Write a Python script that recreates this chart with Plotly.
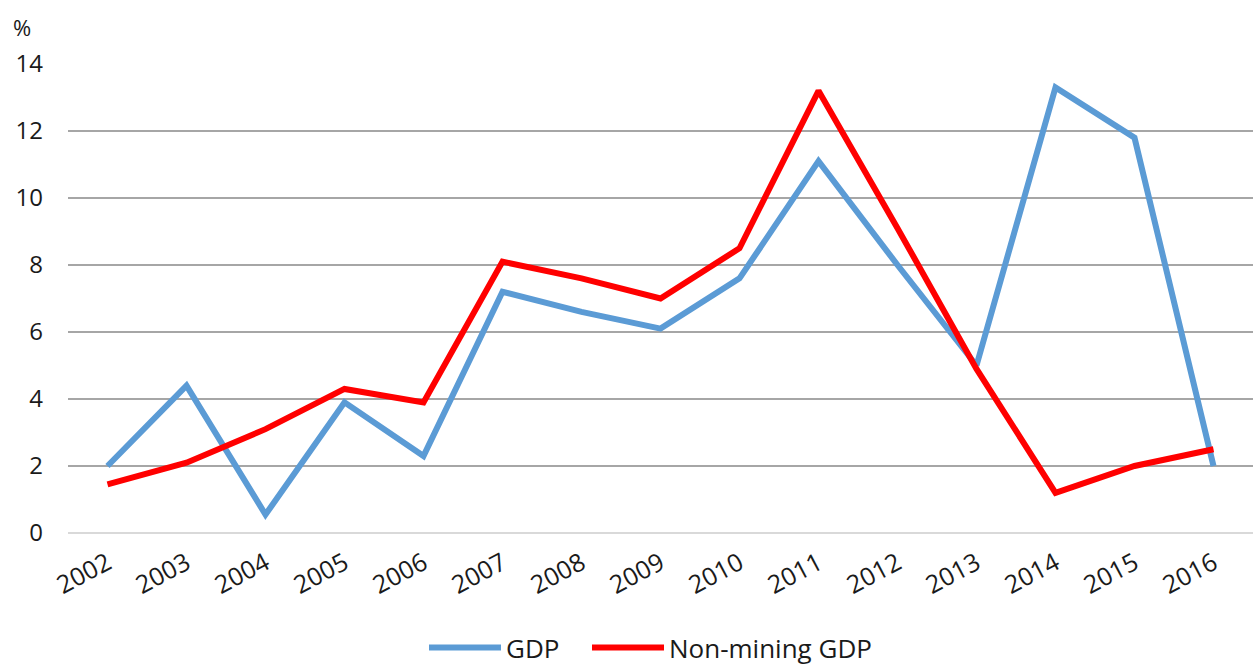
import plotly.graph_objects as go

years = ["2002", "2003", "2004", "2005", "2006", "2007", "2008", "2009",
         "2010", "2011", "2012", "2013", "2014", "2015", "2016"]
gdp = [2.0, 4.4, 0.55, 3.9, 2.3, 7.2, 6.6, 6.1, 7.6, 11.1, 8.0, 5.0, 13.3, 11.8, 2.0]
non_mining_gdp = [1.45, 2.1, 3.1, 4.3, 3.9, 8.1, 7.6, 7.0, 8.5, 13.2, 9.1, 4.9, 1.2, 2.0, 2.5]
y_ticks = [0, 2, 4, 6, 8, 10, 12, 14]

FONT = "Open Sans, Lato, sans-serif"

fig = go.Figure()
fig.add_trace(go.Scatter(x=years, y=gdp, name="GDP", mode="lines", legend="legend",
                         line=dict(color="#5b9bd5", width=6)))
fig.add_trace(go.Scatter(x=years, y=non_mining_gdp, name="Non-mining GDP", mode="lines",
                         legend="legend2", line=dict(color="#ff0000", width=6)))

legend_style = dict(orientation="h", y=0.0, yanchor="bottom", xanchor="left",
                    xref="container", yref="container", font=dict(size=26),
                    itemwidth=72, bgcolor="rgba(0,0,0,0)")

fig.update_layout(
    width=1253, height=671,
    margin=dict(l=68, r=0, t=64, b=138, autoexpand=False),
    plot_bgcolor="white", paper_bgcolor="white",
    font=dict(family=FONT, color="#1a1a1a", size=21),
    showlegend=True,
    legend=dict(x=424 / 1253, **legend_style),
    legend2=dict(x=587 / 1253, **legend_style),
    xaxis=dict(type="category", range=[-0.5, len(years) - 0.5], showgrid=False,
               showline=False, zeroline=False, tickangle=-28, automargin=False,
               tickfont=dict(size=25), ticks="", ticklabelstandoff=10),
    yaxis=dict(range=[0, 14], tickvals=y_ticks, showgrid=True, gridcolor="#a6a6a6",
               gridwidth=2, zeroline=True, zerolinecolor="#d9d9d9", zerolinewidth=2,
               automargin=False,
               tickfont=dict(size=24), ticks="", ticklabelstandoff=24),
    annotations=[dict(text="%", x=0, y=1, xref="paper", yref="paper", xshift=-46,
                      yshift=20, showarrow=False, xanchor="center", yanchor="bottom",
                      font=dict(size=22))],
)

fig.write_html("out.html")
